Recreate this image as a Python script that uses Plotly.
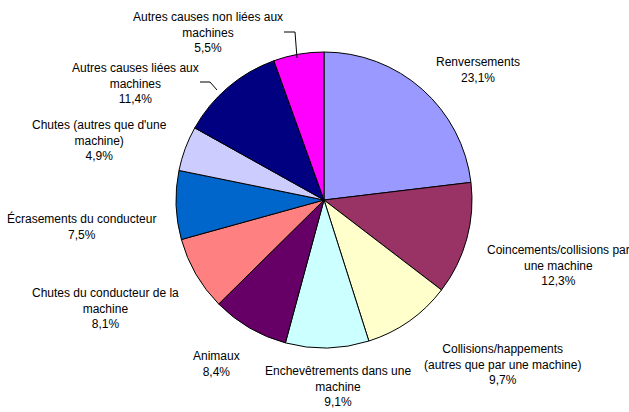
import plotly.graph_objects as go

categories = [
    "Renversements",
    "Coincements/collisions par<br>une machine",
    "Collisions/happements<br>(autres que par une machine)",
    "Enchevêtrements dans une<br>machine",
    "Animaux",
    "Chutes du conducteur de la<br>machine",
    "Écrasements du conducteur",
    "Chutes (autres que d'une<br>machine)",
    "Autres causes liées aux<br>machines",
    "Autres causes non liées aux<br>machines",
]
values = [23.1, 12.3, 9.7, 9.1, 8.4, 8.1, 7.5, 4.9, 11.4, 5.5]
value_labels = ["23,1%", "12,3%", "9,7%", "9,1%", "8,4%", "8,1%", "7,5%", "4,9%", "11,4%", "5,5%"]
colors = ["#9999FF", "#993366", "#FFFFCC", "#CCFFFF", "#660066",
          "#FF8080", "#0066CC", "#CCCCFF", "#000080", "#FF00FF"]

# label centre positions (pixels) – layout only
label_pos = [(478, 70), (558, 265), (502, 364), (338, 386), (216, 364),
             (105, 308), (81, 226), (99, 140), (135, 83), (208, 33)]

W, H = 629, 412
cx, cy, r = 324, 200, 148

fig = go.Figure(go.Pie(
    labels=[c.replace("<br>", " ") for c in categories],
    values=values,
    sort=False,
    direction="clockwise",
    rotation=0,
    marker=dict(colors=colors, line=dict(color="#000000", width=1)),
    textinfo="none",
    hoverinfo="label+percent",
    domain=dict(x=[(cx - r) / W, (cx + r) / W], y=[1 - (cy + r) / H, 1 - (cy - r) / H]),
    showlegend=False,
))

for cat, vl, (px, py) in zip(categories, value_labels, label_pos):
    fig.add_annotation(
        x=px / W, y=1 - py / H, xref="paper", yref="paper",
        text=f"{cat}<br>{vl}", showarrow=False,
        font=dict(family="Arial, Liberation Sans, sans-serif", size=12, color="#000000"),
        align="center", xanchor="center", yanchor="middle",
    )

# leader lines for the two upper-left labels
fig.add_shape(type="path", xref="paper", yref="paper",
              path=f"M {284/W} {1-32/H} L {295/W} {1-32/H} L {297/W} {1-58/H}",
              line=dict(color="#000000", width=1))
fig.add_shape(type="path", xref="paper", yref="paper",
              path=f"M {200/W} {1-82/H} L {210/W} {1-82/H} L {217/W} {1-90/H}",
              line=dict(color="#000000", width=1))

fig.update_layout(
    width=W, height=H,
    margin=dict(l=0, r=0, t=0, b=0),
    paper_bgcolor="#FFFFFF",
    plot_bgcolor="#FFFFFF",
)

fig.write_html("out.html",
               config={"displayModeBar": False},
               post_script="document.body.style.margin='0px';document.body.style.overflow='hidden';")
